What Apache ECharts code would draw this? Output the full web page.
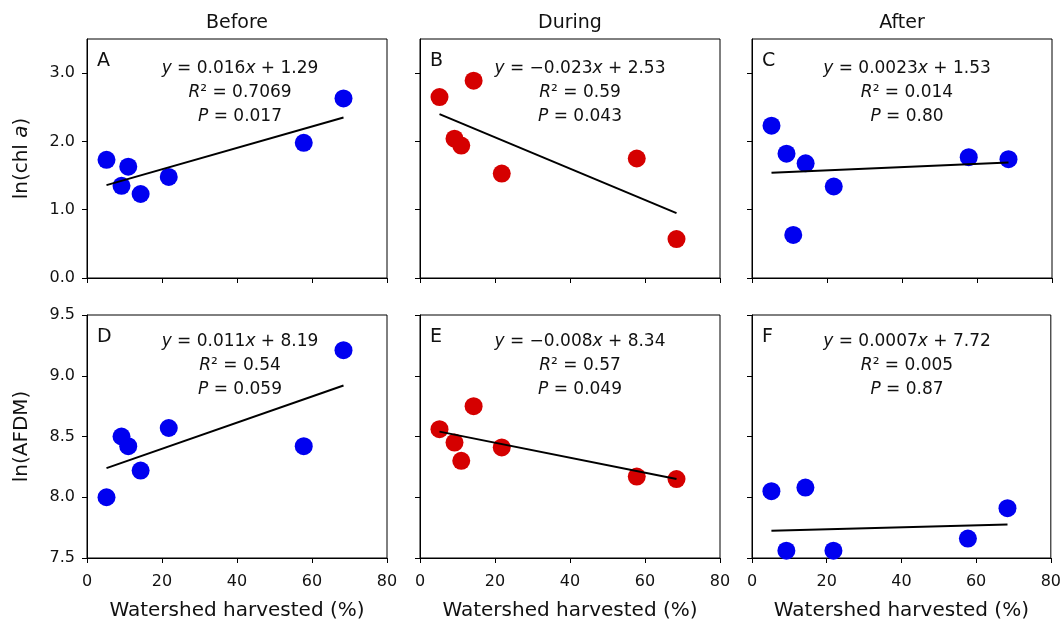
<!DOCTYPE html>
<html>
<head>
<meta charset="utf-8">
<script src="https://cdn.jsdelivr.net/npm/echarts@6/dist/echarts.min.js"></script>
<style>html,body{margin:0;padding:0;background:#fff}#c{width:1064px;height:627px}</style>
</head>
<body>
<div id="c"></div>
<script>
// ---- data ----
const columnTitles = ['Before', 'During', 'After'];
const panelLetters = ['A', 'B', 'C', 'D', 'E', 'F'];
const xHarvest = [5.2, 9.2, 11.0, 14.3, 21.8, 57.8, 68.4];
const chlBefore = [1.73, 1.35, 1.63, 1.23, 1.48, 1.98, 2.63];
const chlDuring = [2.65, 2.04, 1.94, 2.89, 1.53, 1.75, 0.57];
const chlAfter = [2.23, 1.82, 0.63, 1.68, 1.34, 1.77, 1.74];
const afdmBefore = [8.00, 8.50, 8.42, 8.22, 8.57, 8.42, 9.21];
const afdmDuring = [8.56, 8.45, 8.30, 8.75, 8.41, 8.17, 8.15];
const afdmAfter = [8.05, 7.56, null, 8.08, 7.56, 7.66, 7.91];
const fitA = [[5.2, 1.36], [68.4, 2.35]];
const fitB = [[5.2, 2.40], [68.4, 0.95]];
const fitC = [[5.2, 1.54], [68.4, 1.69]];
const fitD = [[5.2, 8.24], [68.4, 8.92]];
const fitE = [[5.2, 8.54], [68.4, 8.15]];
const fitF = [[5.2, 7.725], [68.4, 7.775]];
const equations = [
  '{i|y} = 0.016{i|x} + 1.29\n{i|R}² = 0.7069\n{i|P} = 0.017',
  '{i|y} = −0.023{i|x} + 2.53\n{i|R}² = 0.59\n{i|P} = 0.043',
  '{i|y} = 0.0023{i|x} + 1.53\n{i|R}² = 0.014\n{i|P} = 0.80',
  '{i|y} = 0.011{i|x} + 8.19\n{i|R}² = 0.54\n{i|P} = 0.059',
  '{i|y} = −0.008{i|x} + 8.34\n{i|R}² = 0.57\n{i|P} = 0.049',
  '{i|y} = 0.0007{i|x} + 7.72\n{i|R}² = 0.005\n{i|P} = 0.87'
];
const xTicks = [0, 20, 40, 60, 80];
const chlTicks = [0, 1, 2, 3];
const afdmTicks = [7.5, 8.0, 8.5, 9.0, 9.5];
const yNames = ['ln(chl {i|a})', 'ln(AFDM)'];
const xName = 'Watershed harvested (%)';

// ---- layout ----
const FONT = 'DejaVu Sans';
const colLeft = [87, 420, 752];
const colW = 300;
const rowTop = [39, 315];
const rowH = [239, 243];
const eqCenter = [240, 580, 907];
const eqTop = [57, 330];

const BLUE = '#0000f0', RED = '#d50000';
const panels = [
  {vals: chlBefore, fit: fitA, color: BLUE},
  {vals: chlDuring, fit: fitB, color: RED},
  {vals: chlAfter, fit: fitC, color: BLUE},
  {vals: afdmBefore, fit: fitD, color: BLUE},
  {vals: afdmDuring, fit: fitE, color: RED},
  {vals: afdmAfter, fit: fitF, color: BLUE}
];

const grid = [], xAxis = [], yAxis = [], series = [], title = [];
panels.forEach((p, i) => {
  const r = Math.floor(i / 3), c = i % 3;
  grid.push({left: colLeft[c], top: rowTop[r], width: colW, height: rowH[r],
    show: true, borderColor: '#000', borderWidth: 1, backgroundColor: 'transparent'});
  xAxis.push({
    type: 'value', gridIndex: i, min: 0, max: 80, interval: 20,
    axisLine: {show: true, onZero: false, lineStyle: {color: '#000', width: 1}},
    axisTick: {show: true, length: 5, lineStyle: {color: '#000'}},
    splitLine: {show: false},
    axisLabel: {show: r === 1, margin: 16, color: '#111', fontFamily: FONT, fontSize: 16,
      customValues: xTicks},
    name: r === 1 ? xName : '', nameLocation: 'middle', nameGap: 43,
    nameTextStyle: {fontFamily: FONT, fontSize: 20, color: '#111'}
  });
  const ticks = r === 0 ? chlTicks : afdmTicks;
  yAxis.push({
    type: 'value', gridIndex: i,
    min: r === 0 ? 0 : 7.5, max: r === 0 ? 3.5 : 9.5, interval: r === 0 ? 1 : 0.5,
    axisLine: {show: true, onZero: false, lineStyle: {color: '#000', width: 1}},
    axisTick: {show: true, length: 5, lineStyle: {color: '#000'}, customValues: ticks},
    splitLine: {show: false},
    axisLabel: {show: c === 0, margin: 12, color: '#111', fontFamily: FONT, fontSize: 16,
      customValues: ticks, formatter: v => Number(v).toFixed(1)},
    name: c === 0 ? yNames[r] : '', nameLocation: 'middle', nameGap: 55,
    nameTextStyle: {fontFamily: FONT, fontSize: 20, color: '#111',
      rich: {i: {fontFamily: FONT, fontSize: 20, fontStyle: 'italic', color: '#111'}}}
  });
  const pts = [];
  xHarvest.forEach((x, k) => { if (p.vals[k] != null) pts.push([x, p.vals[k]]); });
  series.push({type: 'scatter', xAxisIndex: i, yAxisIndex: i, data: pts,
    symbolSize: 18, itemStyle: {color: p.color, opacity: 1}, z: 2, silent: true});
  series.push({type: 'line', xAxisIndex: i, yAxisIndex: i, data: p.fit,
    symbol: 'none', lineStyle: {color: '#000', width: 2}, z: 3, silent: true});
  title.push({text: panelLetters[i], left: colLeft[c] + 10, top: rowTop[r] + 13, padding: 0,
    textStyle: {fontFamily: FONT, fontSize: 19, fontWeight: 'normal', color: '#111'}});
  title.push({text: equations[i], left: eqCenter[c], top: eqTop[r], textAlign: 'center', padding: 0,
    textStyle: {fontFamily: FONT, fontSize: 17, fontWeight: 'normal', color: '#111', lineHeight: 24,
      rich: {i: {fontFamily: FONT, fontSize: 17, fontStyle: 'italic', color: '#111', lineHeight: 24}}}});
});
columnTitles.forEach((t, c) => {
  title.push({text: t, left: colLeft[c] + colW / 2, top: 14, textAlign: 'center', padding: 0,
    textStyle: {fontFamily: FONT, fontSize: 19, fontWeight: 'normal', color: '#111'}});
});

const chart = echarts.init(document.getElementById('c'), null, {renderer: 'canvas'});
chart.setOption({animation: false, backgroundColor: '#fff', title, grid, xAxis, yAxis, series});
</script>
</body>
</html>
